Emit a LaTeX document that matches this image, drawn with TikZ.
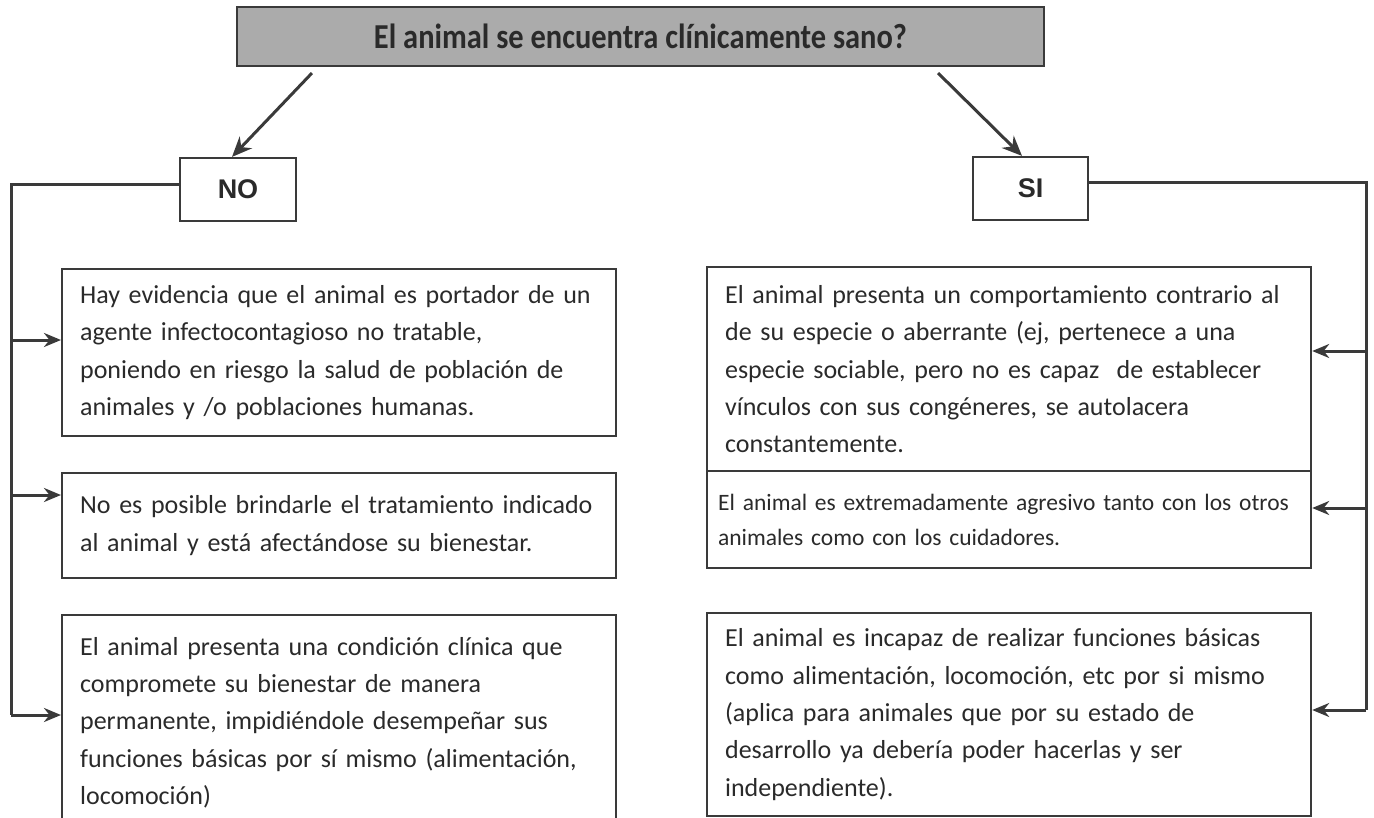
\documentclass[tikz,border=0pt]{standalone}
\usepackage{fontspec}
\setmainfont{Carlito}
\newfontfamily\labfont{Liberation Sans}
\usetikzlibrary{arrows.meta,calc}
\definecolor{ln}{HTML}{3A3A3A}
\definecolor{tx}{HTML}{2A2A2A}
\definecolor{topfill}{HTML}{ABABAB}
\begin{document}
\begin{tikzpicture}[x=1pt,y=-1pt,
  box/.style={draw=ln, line width=2.2pt, text=tx, align=left, inner xsep=18pt, inner ysep=0pt,
    anchor=north west, font=\fontsize{26}{37.4}\selectfont},
  smallbox/.style={box, font=\fontsize{23.5}{35}\selectfont, inner xsep=11pt},
  lab/.style={draw=ln, line width=2.2pt, text=tx, font=\fontsize{27}{30}\labfont\bfseries,
    minimum width=116pt, minimum height=63pt, inner sep=0pt},
  arr/.style={draw=ln, line width=3pt, -{Stealth[length=17pt,width=14pt]}},
  bigarr/.style={arr, -{Stealth[length=20pt,width=17pt]}},
  conn/.style={draw=ln, line width=3pt},
]
\useasboundingbox (0,0) rectangle (1374,817);
\clip (0,0) rectangle (1374,817);

% title
\node[draw=ln, line width=2.2pt, fill=topfill, text=tx, minimum width=807pt, minimum height=59pt,
  inner sep=0pt, font=\fontsize{35}{38}\selectfont\bfseries] (top) at (640.5,36.5)
  {\scalebox{0.87}[1]{El animal se encuentra clínicamente sano?}};

\node[lab] (no) at (238,189.5) {NO};
\node[lab, minimum width=115pt] (si) at (1030.5,188.5) {SI};

\draw[bigarr] ([xshift=76pt,yshift=-6pt]top.south west) -- ([xshift=-6pt]no.north);
\draw[bigarr] ([xshift=-107pt,yshift=-6pt]top.south east) -- ([xshift=-8.5pt]si.north);

% left boxes
\node[box, text width=518pt, minimum height=167pt] (l1) at (61,268)
  {Hay evidencia que el animal es portador de un\\agente infectocontagioso no tratable,\\poniendo en riesgo la salud de población de\\animales y /o poblaciones humanas.};
\node[box, text width=518pt, minimum height=105pt] (l2) at (61,472)
  {No es posible brindarle el tratamiento indicado\\al animal y está afectándose su bienestar.};
\node[box, text width=518pt, minimum height=215pt] (l3) at (61,614)
  {El animal presenta una condición clínica que\\compromete su bienestar de manera\\permanente, impidiéndole desempeñar sus\\funciones básicas por sí mismo (alimentación,\\locomoción)};

% right boxes
\node[box, text width=568pt, minimum height=204pt] (r1) at (706,266)
  {El animal presenta un comportamiento contrario al\\de su especie o aberrante (ej, pertenece a una\\especie sociable, pero no es capaz\ \ de establecer\\vínculos con sus congéneres, se autolacera\\constantemente.};
\node[smallbox, text width=582pt, minimum height=97pt] (r2) at (706,470)
  {El animal es extremadamente agresivo tanto con los otros\\animales como con los cuidadores.\\[6pt]};
\node[box, text width=568pt, minimum height=203pt] (r3) at (706,612)
  {El animal es incapaz de realizar funciones básicas\\como alimentación, locomoción, etc por si mismo\\(aplica para animales que por su estado de\\desarrollo ya debería poder hacerlas y ser\\independiente).};

% left spine
\coordinate (lc) at (11,184);
\coordinate (la1) at (11,340);
\coordinate (la2) at (11,495);
\coordinate (la3) at (11,715);
\draw[conn] ([yshift=5.5pt]no.west) -- (lc) -- (la3);
\draw[arr] (la1) -- (la1 -| l1.west);
\draw[arr] (la2) -- (la2 -| l2.west);
\draw[arr] (la3) -- (la3 -| l3.west);

% right spine
\coordinate (rc) at (1366,182);
\coordinate (ra1) at (1366,351);
\coordinate (ra2) at (1366,508);
\coordinate (ra3) at (1366,710);
\draw[conn] ([yshift=6.5pt]si.east) -- (rc) -- (ra3);
\draw[arr] (ra1) -- (ra1 -| r1.east);
\draw[arr] (ra2) -- (ra2 -| r2.east);
\draw[arr] (ra3) -- (ra3 -| r3.east);
\end{tikzpicture}
\end{document}
